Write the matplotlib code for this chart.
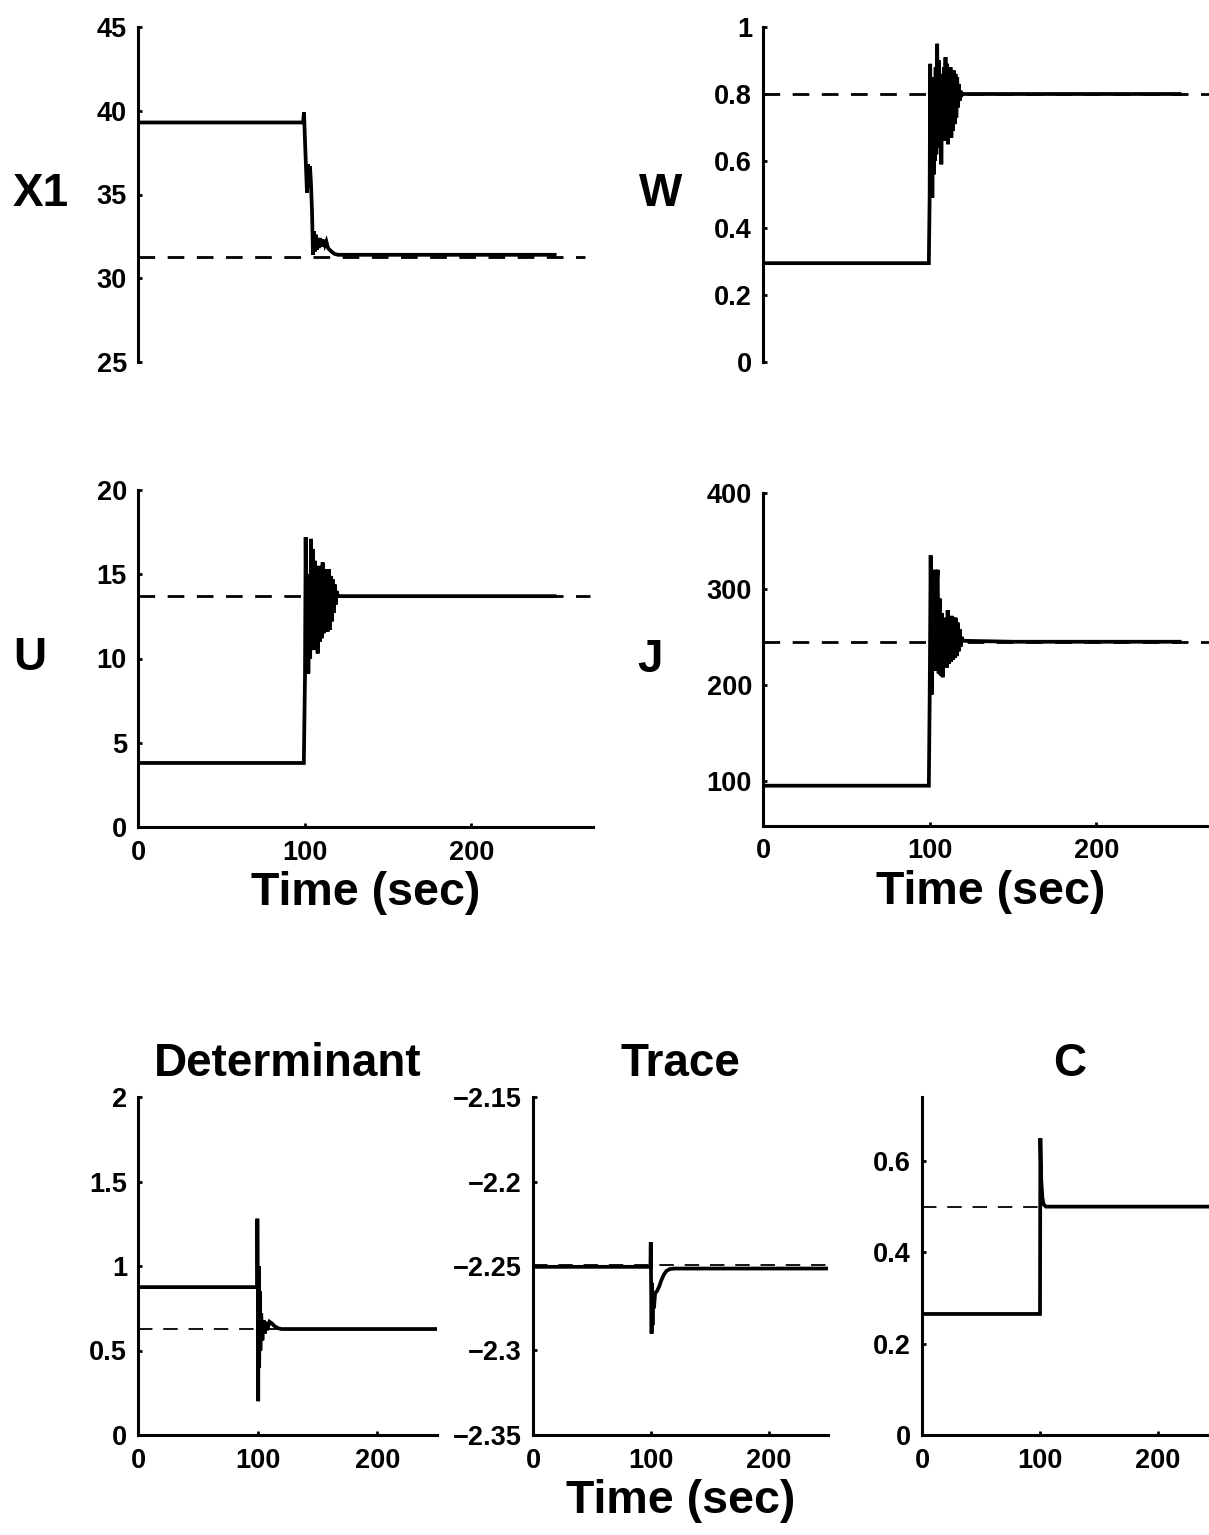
import matplotlib
matplotlib.use('Agg')
import matplotlib.pyplot as plt

plt.rcParams['font.family'] = ['Liberation Sans', 'DejaVu Sans']
plt.rcParams['font.weight'] = 'bold'

# ---------------- data ----------------
# X1
x1_t = [0, 99, 99.6, 100.2, 100.8, 101.4, 102, 102.6, 103.2, 103.8, 104.4, 105, 105.6, 106.2,
        106.8, 107.4, 108, 108.6, 109.2, 109.8, 110.4, 111, 111.6, 112.2, 113, 114, 116, 118, 120,
        150, 200, 250]
x1_v = [39.3, 39.3, 39.9, 38.2, 36.6, 35.1, 36.8, 35.4, 36.7, 35.6, 34.0, 31.4, 32.8, 31.6,
        32.6, 31.7, 32.4, 31.8, 32.4, 31.9, 32.3, 31.9, 32.3, 32.0, 32.2, 31.8, 31.6, 31.45, 31.4,
        31.4, 31.4, 31.4]
x1_ref = 31.27

# W
w_t = [0, 99.5, 100, 100.3, 100.7, 101.2, 101.6, 102, 102.4, 102.8, 103.2, 103.6, 104, 104.5,
       105, 105.5, 106, 106.5, 107, 107.5, 108, 108.5, 109, 109.5, 110, 110.5, 111, 111.5, 112,
       112.5, 113, 113.5, 114, 114.5, 115, 115.5, 116, 116.5, 117, 117.5, 118, 118.5, 119, 120,
       150, 200, 250]
w_v = [0.295, 0.295, 0.5, 0.89, 0.55, 0.85, 0.49, 0.78, 0.56, 0.83, 0.60, 0.88, 0.62, 0.95,
       0.66, 0.90, 0.64, 0.86, 0.59, 0.84, 0.66, 0.88, 0.66, 0.91, 0.67, 0.89, 0.65, 0.88, 0.68,
       0.88, 0.67, 0.87, 0.69, 0.87, 0.71, 0.86, 0.73, 0.85, 0.76, 0.83, 0.78, 0.81, 0.795, 0.80,
       0.80, 0.80, 0.80]
w_ref = 0.80

# U
u_t = [0, 99.5, 100.2, 100.6, 101.2, 101.8, 102.2, 102.8, 103.3, 103.8, 104.3, 104.8, 105.4,
       106, 106.6, 107.2, 107.8, 108.4, 109, 109.6, 110.2, 110.8, 111.4, 112, 112.6, 113.2, 113.8,
       114.4, 115, 115.6, 116.2, 116.8, 117.4, 118, 118.6, 119.2, 120, 150, 200, 250]
u_v = [3.8, 3.8, 9.0, 17.2, 9.5, 14.0, 9.1, 15.0, 10.0, 17.1, 10.5, 16.5, 10.8, 15.8, 10.5,
       15.5, 10.3, 15.2, 11.0, 15.5, 11.2, 15.7, 11.5, 15.3, 11.8, 15.2, 11.6, 15.3, 11.7, 14.9,
       12.2, 14.7, 12.7, 14.4, 13.2, 14.0, 13.7, 13.7, 13.7, 13.7]
u_ref = 13.7

# J
j_t = [0, 99.5, 100, 100.6, 101.2, 101.8, 102.4, 103, 103.6, 104.2, 104.8, 105.4, 106, 106.6,
       107.2, 107.8, 108.4, 109, 109.6, 110.2, 110.8, 111.4, 112, 112.6, 113.2, 113.8, 114.4, 115,
       115.6, 116.2, 116.8, 117.4, 118, 118.6, 119.2, 120, 150, 200, 250]
j_v = [95, 95, 185, 335, 190, 290, 219, 320, 215, 300, 320, 212, 290, 210, 275, 208, 265, 220,
       270, 218, 278, 222, 270, 224, 272, 226, 270, 228, 270, 230, 265, 235, 258, 240, 250, 246,
       245, 245, 245]
j_ref = 245

# Determinant
det_t = [0, 99.5, 99.8, 100.2, 100.5, 100.9, 101.3, 101.8, 102.3, 103, 104, 105, 106, 107, 108,
         110, 112, 114, 117, 120, 250]
det_v = [0.875, 0.875, 1.28, 0.9, 0.2, 1.0, 0.4, 0.85, 0.5, 0.72, 0.56, 0.68, 0.60, 0.67, 0.62,
         0.67, 0.66, 0.645, 0.632, 0.627, 0.627]
det_ref = 0.627

# Trace
tr_t = [0, 99.5, 99.8, 100.2, 100.5, 100.9, 101.3, 101.8, 102.5, 103.5, 105, 107, 109, 111,
        113, 116, 120, 250]
tr_v = [-2.2505, -2.2505, -2.236, -2.27, -2.29, -2.26, -2.285, -2.265, -2.275, -2.266, -2.265,
        -2.262, -2.258, -2.255, -2.253, -2.2518, -2.2515, -2.2515]
tr_ref = -2.2495

# C
c_t = [0, 100, 100.3, 101, 102, 103, 105, 250]
c_v = [0.265, 0.265, 0.65, 0.56, 0.52, 0.505, 0.50, 0.50]
c_ref = 0.50

time_ticks = [0, 100, 200]
x1_ticks = [25, 30, 35, 40, 45]
w_ticks = [0, 0.2, 0.4, 0.6, 0.8, 1]
w_labels = ['0', '0.2', '0.4', '0.6', '0.8', '1']
u_ticks = [0, 5, 10, 15, 20]
j_ticks = [100, 200, 300, 400]
det_ticks = [0, 0.5, 1, 1.5, 2]
det_labels = ['0', '0.5', '1', '1.5', '2']
tr_ticks = [-2.35, -2.3, -2.25, -2.2, -2.15]
tr_labels = ['\u22122.35', '\u22122.3', '\u22122.25', '\u22122.2', '\u22122.15']
c_ticks = [0, 0.2, 0.4, 0.6]
c_labels = ['0', '0.2', '0.4', '0.6']

# ---------------- figure ----------------
W, H = 1209, 1535
fig = plt.figure(figsize=(W / 100, H / 100), dpi=100)

def box(l, t, w, b):
    # pixel box -> figure fraction
    return [l / W, 1 - b / H, w / W, (b - t) / H]

def style(ax, xaxis=True):
    for s in ['top', 'right']:
        ax.spines[s].set_visible(False)
    ax.spines['left'].set_linewidth(2.2)
    ax.spines['bottom'].set_linewidth(2.2)
    ax.tick_params(direction='in', length=3, width=2, labelsize=19.5)
    ax.tick_params(axis='y', pad=8)
    ax.tick_params(axis='x', pad=9)
    if not xaxis:
        ax.spines['bottom'].set_visible(False)
        ax.set_xticks([])
    else:
        ax.set_xticks(time_ticks)
    for lab in ax.get_xticklabels() + ax.get_yticklabels():
        lab.set_fontweight('bold')

def ylab(ax, txt, xpos):
    ax.set_ylabel(txt, rotation=0, fontsize=33, fontweight='bold', va='center', ha='center')
    ax.yaxis.set_label_coords(xpos, 0.5)

def xlab(ax):
    ax.set_xlabel('Time (sec)', fontsize=33.5, fontweight='bold', labelpad=4)

solid = dict(color='black', lw=2.7, solid_joinstyle='miter')
dash_top = dict(color='black', lw=2.0, dashes=(6, 4.5))
dash_bot = dict(color='black', lw=1.3, dashes=(8, 6))

# X1
ax = fig.add_axes(box(138, 27, 455, 362))
ax.plot([0, 268], [x1_ref, x1_ref], **dash_top)
ax.plot(x1_t, x1_v, **solid)
ax.set_xlim(0, 273)
ax.set_ylim(25, 45)
ax.set_yticks(x1_ticks)
style(ax, xaxis=False)
ylab(ax, 'X1', -0.215)

# W
ax = fig.add_axes(box(763, 27, 455, 362))
ax.plot([0, 275], [w_ref, w_ref], **dash_top)
ax.plot(w_t, w_v, **solid)
ax.set_xlim(0, 273)
ax.set_ylim(0, 1)
ax.set_yticks(w_ticks)
ax.set_yticklabels(w_labels)
style(ax, xaxis=False)
ylab(ax, 'W', -0.226)

# U
ax = fig.add_axes(box(138, 490, 455, 827))
ax.plot([0, 271], [u_ref, u_ref], **dash_top)
ax.plot(u_t, u_v, **solid)
ax.set_xlim(0, 273)
ax.set_ylim(0, 20)
ax.set_yticks(u_ticks)
style(ax)
ylab(ax, 'U', -0.237)
xlab(ax)

# J
ax = fig.add_axes(box(763, 493, 455, 826))
ax.plot([0, 275], [j_ref, j_ref], **dash_top)
ax.plot(j_t, j_v, **solid)
ax.set_xlim(0, 273)
ax.set_ylim(53, 400)
ax.set_yticks(j_ticks)
style(ax)
ylab(ax, 'J', -0.248)
xlab(ax)

# bottom row
ax = fig.add_axes(box(138, 1097, 299, 1435))
ax.plot([0, 250], [det_ref, det_ref], **dash_bot)
ax.plot(det_t, det_v, **solid)
ax.set_xlim(0, 250)
ax.set_ylim(0, 2)
ax.set_yticks(det_ticks)
ax.set_yticklabels(det_labels)
style(ax)
ax.set_title('Determinant', fontsize=33, fontweight='bold', pad=15)

ax = fig.add_axes(box(533, 1097, 295, 1435))
ax.plot([0, 250], [tr_ref, tr_ref], **dash_bot)
ax.plot(tr_t, tr_v, **solid)
ax.set_xlim(0, 250)
ax.set_ylim(-2.35, -2.15)
ax.set_yticks(tr_ticks)
ax.set_yticklabels(tr_labels)
style(ax)
ax.set_title('Trace', fontsize=33, fontweight='bold', pad=15)
xlab(ax)

ax = fig.add_axes(box(922, 1097, 295, 1435))
ax.plot([0, 250], [c_ref, c_ref], **dash_bot)
ax.plot(c_t, c_v, **solid)
ax.set_xlim(0, 250)
ax.set_ylim(0, 0.74)
ax.set_yticks(c_ticks)
ax.set_yticklabels(c_labels)
style(ax)
ax.set_title('C', fontsize=33, fontweight='bold', pad=15)

fig.savefig('out.png', dpi=100)
